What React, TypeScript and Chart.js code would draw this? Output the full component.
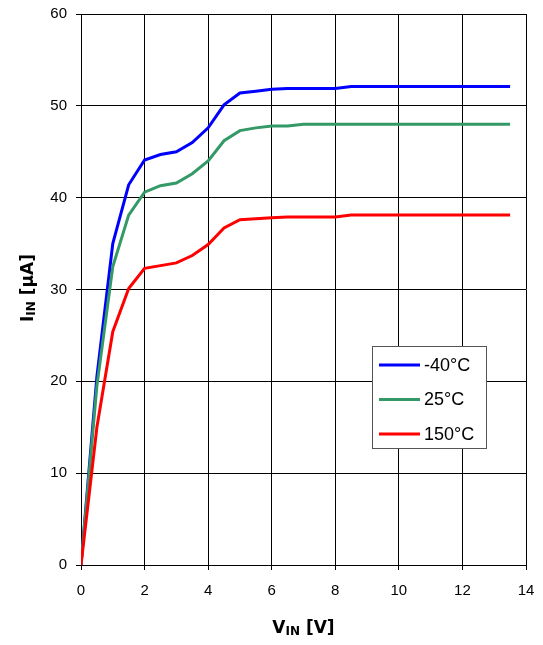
import React, { useEffect, useRef } from "react";
import { Chart, registerables } from "chart.js";

Chart.register(...registerables);

const vin: number[] = [0, 0.5, 1, 1.5, 2, 2.5, 3, 3.5, 4, 4.5, 5, 5.5, 6, 6.5, 7, 7.5, 8, 8.5, 9, 9.5, 10, 10.5, 11, 11.5, 12, 12.5, 13, 13.5];
const iMinus40: number[] = [0, 20.5, 35, 41.4, 44.1, 44.7, 45.0, 46.0, 47.6, 50.1, 51.4, 51.6, 51.8, 51.9, 51.9, 51.9, 51.9, 52.1, 52.1, 52.1, 52.1, 52.1, 52.1, 52.1, 52.1, 52.1, 52.1, 52.1];
const i25: number[] = [0, 19.5, 32.5, 38.1, 40.6, 41.3, 41.6, 42.6, 44.0, 46.2, 47.3, 47.6, 47.8, 47.8, 48.0, 48.0, 48.0, 48.0, 48.0, 48.0, 48.0, 48.0, 48.0, 48.0, 48.0, 48.0, 48.0, 48.0];
const i150: number[] = [0, 15, 25.4, 30.1, 32.3, 32.6, 32.9, 33.7, 34.9, 36.7, 37.6, 37.7, 37.8, 37.9, 37.9, 37.9, 37.9, 38.1, 38.1, 38.1, 38.1, 38.1, 38.1, 38.1, 38.1, 38.1, 38.1, 38.1];

const seriesLabels: string[] = ["-40°C", "25°C", "150°C"];
const seriesColors: string[] = ["#0000FF", "#339966", "#FF0000"];
const seriesValues: number[][] = [iMinus40, i25, i150];

const FONT = 'Arial, "Liberation Sans", sans-serif';
const TITLE_FONT = '"DejaVu Sans", Verdana, sans-serif';

const titlePlugin = {
  id: "customTitles",
  afterDraw(chart: any) {
    const ctx = chart.ctx;
    const area = chart.chartArea;
    const drawParts = (parts: { t: string; size: number; dy: number }[], cx: number, cy: number) => {
      let total = 0;
      for (const p of parts) {
        ctx.font = `bold ${p.size}px ${TITLE_FONT}`;
        total += ctx.measureText(p.t).width;
      }
      let x = cx - total / 2;
      for (const p of parts) {
        ctx.font = `bold ${p.size}px ${TITLE_FONT}`;
        ctx.fillText(p.t, x, cy + p.dy);
        x += ctx.measureText(p.t).width;
      }
    };
    ctx.save();
    ctx.fillStyle = "#000";
    ctx.textBaseline = "alphabetic";
    ctx.textAlign = "left";
    // X title
    drawParts(
      [
        { t: "V", size: 17, dy: 0 },
        { t: "IN", size: 12, dy: 2 },
        { t: " [V]", size: 17, dy: 0 },
      ],
      (area.left + area.right) / 2,
      633
    );
    // Y title
    ctx.translate(33, 288);
    ctx.rotate(-Math.PI / 2);
    drawParts(
      [
        { t: "I", size: 17, dy: 0 },
        { t: "IN", size: 12, dy: 2 },
        { t: " [µA]", size: 17, dy: 0 },
      ],
      0,
      0
    );
    ctx.restore();

    // Legend
    ctx.save();
    const bx = 372.5, by = 346.5, bw = 114, bh = 102;
    ctx.fillStyle = "#fff";
    ctx.fillRect(bx, by, bw, bh);
    ctx.strokeStyle = "#555";
    ctx.lineWidth = 1;
    ctx.strokeRect(bx, by, bw, bh);
    ctx.font = `18px ${FONT}`;
    ctx.textBaseline = "middle";
    ctx.textAlign = "left";
    seriesLabels.forEach((lab, i) => {
      const y = 365 + i * 34.5;
      ctx.strokeStyle = seriesColors[i];
      ctx.lineWidth = 3;
      ctx.beginPath();
      ctx.moveTo(379, y);
      ctx.lineTo(420, y);
      ctx.stroke();
      ctx.fillStyle = "#000";
      ctx.fillText(lab, 424, y + 1);
    });
    ctx.restore();
  },
};

export default function App() {
  const ref = useRef<HTMLCanvasElement | null>(null);
  useEffect(() => {
    if (!ref.current) return;
    const chart = new Chart(ref.current, {
      type: "line",
      data: {
        datasets: seriesValues.map((vals, i) => ({
          label: seriesLabels[i],
          data: vin.map((x, k) => ({ x, y: vals[k] })),
          borderColor: seriesColors[i],
          backgroundColor: seriesColors[i],
          borderWidth: 3,
          pointRadius: 0,
          tension: 0,
          fill: false,
          order: 2 - i,
        })),
      },
      options: {
        responsive: false,
        animation: false,
        layout: { padding: { top: 14, right: 17, left: 0, bottom: 0 } },
        plugins: { legend: { display: false }, tooltip: { enabled: false } },
        scales: {
          x: {
            type: "linear",
            min: 0,
            max: 14,
            afterFit: (s: any) => {
              s.height = 80;
              s.paddingLeft = 0;
              s.paddingRight = 0;
            },
            ticks: { stepSize: 2, color: "#000", font: { family: FONT, size: 15 }, padding: 12, maxRotation: 0 },
            grid: { color: "#000", lineWidth: 1, tickLength: 5 },
            border: { color: "#000", width: 1 },
          },
          y: {
            min: 0,
            max: 60,
            afterFit: (s: any) => {
              s.width = 81;
              s.paddingTop = 0;
              s.paddingBottom = 0;
            },
            ticks: { stepSize: 10, color: "#000", font: { family: FONT, size: 15 }, padding: 9 },
            grid: { color: "#000", lineWidth: 1, tickLength: 5 },
            border: { color: "#000", width: 1 },
          },
        },
      },
      plugins: [titlePlugin],
    } as any);
    return () => chart.destroy();
  }, []);
  return (
    <div style={{ position: "fixed", left: 0, top: 0, width: 543, height: 645, background: "#fff" }}>
      <canvas ref={ref} width={543} height={645} style={{ display: "block" }} />
    </div>
  );
}
